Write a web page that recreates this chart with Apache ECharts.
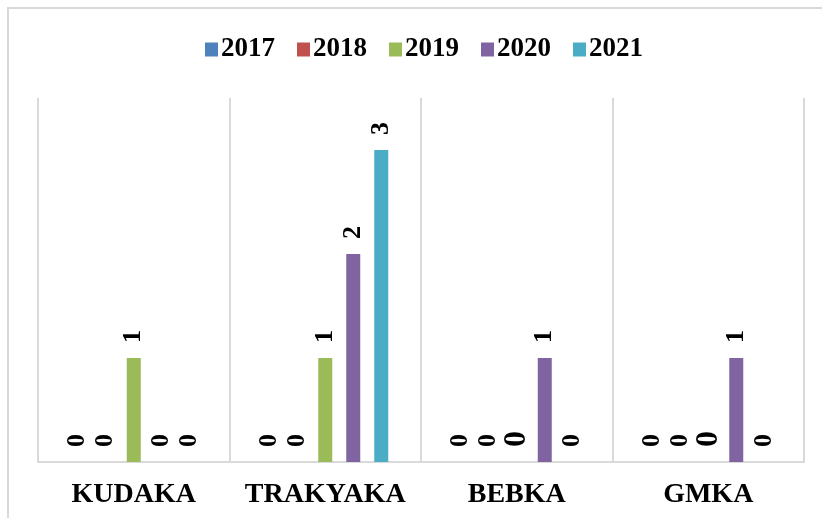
<!DOCTYPE html>
<html>
<head>
<meta charset="utf-8">
<script src="https://cdn.jsdelivr.net/npm/echarts@6/dist/echarts.min.js"></script>
<style>
  html, body { margin: 0; padding: 0; background: #fff; }
  #chart { width: 822px; height: 518px; }
</style>
</head>
<body>
<div id="chart"></div>
<script>
const categories = ['KUDAKA', 'TRAKYAKA', 'BEBKA', 'GMKA']
const years = ['2017', '2018', '2019', '2020', '2021']
const v2017 = [0, 0, 0, 0]
const v2018 = [0, 0, 0, 0]
const v2019 = [1, 1, 0, 0]
const v2020 = [0, 2, 1, 1]
const v2021 = [0, 3, 0, 0]
const colors = ['#4F81BD', '#C0504D', '#9BBB59', '#8064A2', '#4BACC6']

const font = 'Liberation Serif'
const chart = echarts.init(document.getElementById('chart'))

// the 2019 zero labels in BEBKA / GMKA are printed larger in the source
const makeData = (vals, yi) => vals.map((v, ci) => {
  if (yi === 2 && v === 0) {
    return { value: v, label: { fontSize: 32 } }
  }
  return v
})

const allVals = [v2017, v2018, v2019, v2020, v2021]

const series = years.map((y, i) => ({
  name: y,
  type: 'bar',
  data: makeData(allVals[i], i),
  barWidth: 14,
  barGap: '100%',
  itemStyle: { color: colors[i] },
  label: {
    show: true,
    position: 'top',
    rotate: 90,
    align: 'left',
    verticalAlign: 'middle',
    distance: 15,
    fontFamily: font,
    fontWeight: 'bold',
    fontSize: 26,
    color: '#000'
  }
}))

const options = {
  animation: false,
  textStyle: { fontFamily: font },
  graphic: [{
    type: 'rect',
    shape: { x: 8, y: 8, width: 840, height: 540 },
    style: { fill: 'none', stroke: '#d9d9d9', lineWidth: 2 },
    silent: true
  }],
  legend: {
    top: 31,
    left: 200,
    itemWidth: 13,
    itemHeight: 14,
    itemGap: 22,
    icon: 'rect',
    textStyle: {
      fontFamily: font,
      fontWeight: 'bold',
      fontSize: 27,
      color: '#000',
      padding: [0, 0, 0, -2]
    },
    data: years
  },
  grid: {
    left: 38,
    right: 18,
    top: 98,
    bottom: 56
  },
  xAxis: {
    type: 'category',
    data: categories,
    axisLine: { lineStyle: { color: '#d9d9d9', width: 2 } },
    axisTick: { show: false },
    splitLine: { show: true, interval: 0, lineStyle: { color: '#d9d9d9', width: 2 } },
    axisLabel: {
      interval: 0,
      margin: 19,
      fontFamily: font,
      fontWeight: 'bold',
      fontSize: 28,
      color: '#000'
    }
  },
  yAxis: {
    type: 'value',
    min: 0,
    max: 3.5,
    show: false,
    splitLine: { show: false }
  },
  series: series
}

chart.setOption(options)

window.addEventListener('resize', () => {
  chart.resize()
})
</script>
</body>
</html>
